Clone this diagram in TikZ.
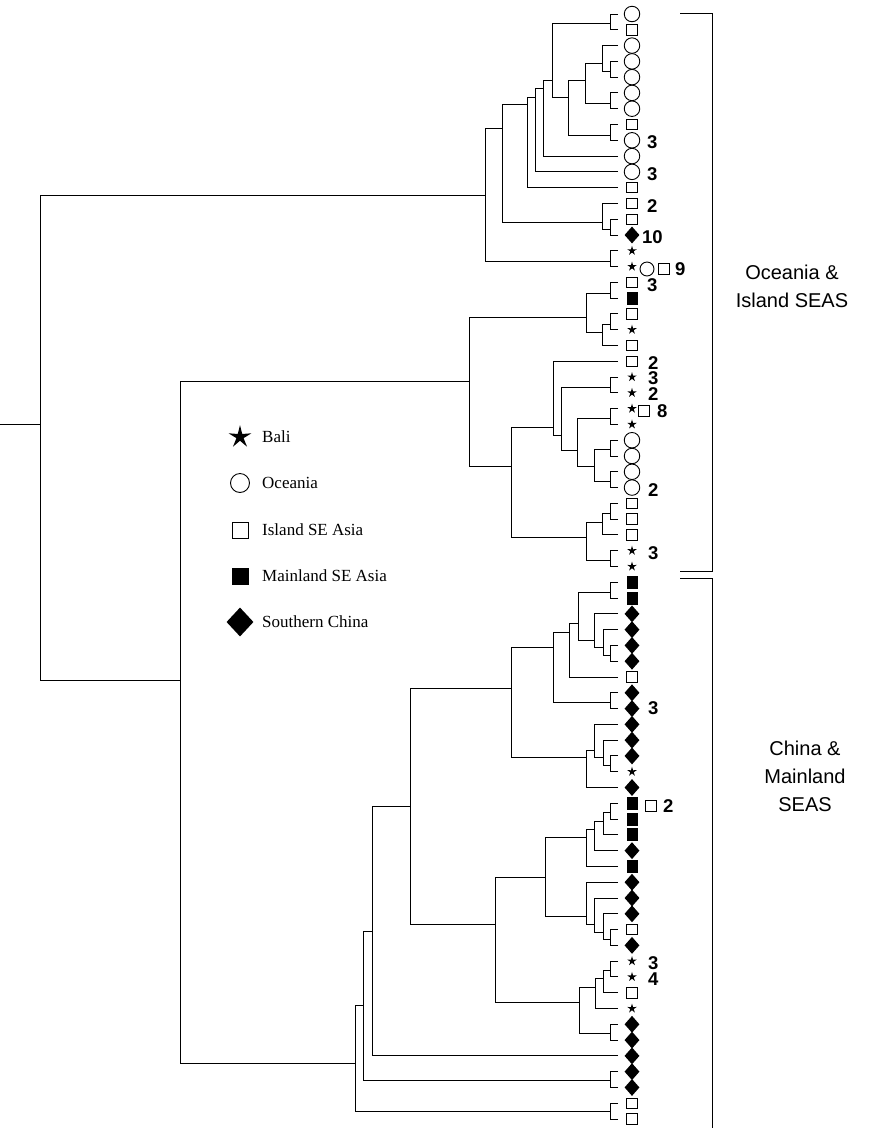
\documentclass[tikz,border=0pt]{standalone}
\usepackage{fontspec}
\setmainfont{Liberation Serif}
\newfontfamily\sansf{Liberation Sans}
\usetikzlibrary{shapes.geometric}
\newcommand{\jn}[5]{\coordinate (#1) at (#2,#3); \draw[tree] (#4) -| (#1); \draw[tree] (#5) -| (#1);}
\begin{document}
\begin{tikzpicture}[x=1pt,y=-1pt,
  tree/.style={line width=0.9pt},
  symc/.style={circle,draw,line width=0.9pt,minimum size=15.5pt,inner sep=0pt},
  syms/.style={rectangle,draw,line width=0.9pt,minimum size=10.5pt,inner sep=0pt},
  symf/.style={rectangle,fill,minimum width=11pt,minimum height=13pt,inner sep=0pt},
  symd/.style={diamond,fill,minimum width=15pt,minimum height=17pt,inner sep=0pt},
  syma/.style={star,star points=5,star point ratio=2.8,fill,minimum size=10pt,inner sep=0pt},
  num/.style={anchor=west,inner sep=0pt,text height=13pt,text depth=0pt,font=\sansf\bfseries\fontsize{18.5}{18.5}\selectfont},
  leg/.style={anchor=west,inner sep=0pt,font=\fontsize{17}{20}\selectfont},
  grp/.style={align=center,inner sep=0pt,font=\sansf\fontsize{20}{28}\selectfont}]
\useasboundingbox (0,0) rectangle (871,1128);
% leaves
\foreach \t [count=\i] in {c,s,c,c,c,c,c,s,c,c,c,s,s,s,d,a,a,s,f,s,a,s,s,a,a,a,a,c,c,c,c,s,s,s,a,a,f,f,d,d,d,d,s,d,d,d,d,d,a,d,f,f,f,d,f,d,d,d,s,d,a,a,s,a,d,d,d,d,d,s,s}{
  \pgfmathsetmacro\yy{14+(\i-1)*15.7857}
  \edef\tmp{\noexpand\coordinate (L\i) at (618,\yy); \noexpand\node[sym\t] (S\i) at (632,\yy) {};}
  \tmp
}
% Oceania cluster
\jn{A1}{610}{23}{L1}{L2}
\jn{A2}{610}{71}{L4}{L5}
\jn{A3}{602}{63}{L3}{A2}
\jn{A4}{610}{103}{L6}{L7}
\jn{A5}{585}{80}{A3}{A4}
\jn{A6}{610}{135}{L8}{L9}
\jn{A7}{568}{97}{A5}{A6}
\jn{A8}{552}{80}{A1}{A7}
\jn{A9}{543}{88}{A8}{L10}
\jn{A10}{535}{97}{A9}{L11}
\jn{A11}{527}{104}{A10}{L12}
\jn{A12}{610}{229}{L14}{L15}
\jn{A13}{602}{222}{L13}{A12}
\jn{A14}{502}{128}{A11}{A13}
\jn{A15}{610}{261}{L16}{L17}
\jn{A16}{485}{195}{A14}{A15}
% Island SEAS cluster
\jn{B1}{610}{293}{L18}{L19}
\jn{B2}{610}{324}{L20}{L21}
\jn{B3}{602}{332}{B2}{L22}
\jn{B4}{586}{317}{B1}{B3}
\jn{B5}{610}{387}{L24}{L25}
\jn{B6}{610}{418}{L26}{L27}
\jn{B7}{610}{449}{L28}{L29}
\jn{B8}{610}{481}{L30}{L31}
\jn{B9}{594}{466}{B7}{B8}
\jn{B10}{577}{450}{B6}{B9}
\jn{B11}{561}{435}{B5}{B10}
\jn{B12}{553}{427}{L23}{B11}
\jn{B13}{610}{513}{L32}{L33}
\jn{B14}{602}{522}{B13}{L34}
\jn{B15}{610}{560}{L35}{L36}
\jn{B16}{586}{537}{B14}{B15}
\jn{B17}{511}{466}{B12}{B16}
\jn{B18}{469}{381}{B4}{B17}
% China cluster
\jn{D1}{610}{592}{L37}{L38}
\jn{D2}{610}{655}{L41}{L42}
\jn{D3}{603}{647}{L40}{D2}
\jn{D4}{594}{640}{L39}{D3}
\jn{D5}{578}{623}{D1}{D4}
\jn{D6}{569}{632}{D5}{L43}
\jn{D7}{610}{702}{L44}{L45}
\jn{D8}{553}{647}{D6}{D7}
\jn{D10}{610}{765}{L48}{L49}
\jn{D11}{603}{757}{L47}{D10}
\jn{D12}{594}{750}{L46}{D11}
\jn{D13}{586}{757}{D12}{L50}
\jn{D9}{511}{688}{D8}{D13}
\jn{G1}{610}{812}{L51}{L52}
\jn{G2}{603}{821}{G1}{L53}
\jn{G3}{594}{829}{G2}{L54}
\jn{G4}{586}{837}{G3}{L55}
\jn{G5}{610}{939}{L59}{L60}
\jn{G6}{603}{932}{L58}{G5}
\jn{G7}{594}{924}{L57}{G6}
\jn{G8}{586}{916}{L56}{G7}
\jn{G9}{545}{877}{G4}{G8}
\jn{E1}{610}{1033}{L65}{L66}
\jn{E2}{610}{970}{L61}{L62}
\jn{E3}{603}{978}{E2}{L63}
\jn{E4}{595}{987}{E3}{L64}
\jn{E5}{579}{1002}{E4}{E1}
\jn{H}{495}{924}{G9}{E5}
\jn{J}{610}{1080}{L68}{L69}
\jn{K}{610}{1111}{L70}{L71}
\jn{I1}{410}{806}{D9}{H}
\jn{I2}{372}{931}{I1}{L67}
\jn{I3}{363}{1005}{I2}{J}
\jn{I4}{355}{1063}{I3}{K}
% root
\jn{R}{180}{680}{B18}{I4}
\jn{RT}{40}{424}{A16}{R}
\coordinate (R0) at (0,424);
\draw[tree] (R0) -- (RT);
% count labels
\node[num] (n9) at (647,142) {3};
\node[num] (n11) at (647,174) {3};
\node[num] (n13) at (647,206) {2};
\node[num] (n15) at (642,237) {10};
\node[symc,minimum size=14pt] (c17) at (647,269) {};
\node[syms] (s17) at (664,269) {};
\node[num] (n17) at (675,269) {9};
\node[num] (n18) at (647,285) {3};
\node[num] (n23) at (648,363) {2};
\node[num] (n24) at (648,378) {3};
\node[num] (n25) at (648,394) {2};
\node[syms] (s26) at (644,411) {};
\node[num] (n26) at (657,411) {8};
\node[num] (n31) at (648,490) {2};
\node[num] (n35) at (648,553) {3};
\node[num] (n45) at (648,708) {3};
\node[syms] (s51) at (651,806) {};
\node[num] (n51) at (663,806) {2};
\node[num] (n61) at (648,963) {3};
\node[num] (n62) at (648,979) {4};
% legend
\node[syma,minimum size=24pt,star point ratio=3.2] (kA) at (240,437) {};
\node[leg] (tA) at (262,437) {Bali};
\node[symc,minimum size=19pt] (kC) at (240,483) {};
\node[leg] (tC) at (262,483) {Oceania};
\node[syms,minimum size=16pt] (kS) at (240,530) {};
\node[leg] (tS) at (262,530) {Island SE Asia};
\node[symf,minimum size=17pt] (kF) at (240,576) {};
\node[leg] (tF) at (262,576) {Mainland SE Asia};
\node[symd,minimum width=27pt,minimum height=29pt] (kD) at (240,622) {};
\node[leg] (tD) at (262,622) {Southern China};
% group brackets
\coordinate (b1) at (680,13); \coordinate (b2) at (712,13);
\coordinate (b3) at (712,571); \coordinate (b4) at (680,571);
\draw[tree] (b1) -- (b2) -- (b3) -- (b4);
\coordinate (b5) at (680,578); \coordinate (b6) at (712,578);
\coordinate (b7) at (712,1128);
\draw[tree] (b5) -- (b6) -- (b7);
\node[grp] (g1) at (792,286) {Oceania \&\\Island SEAS};
\node[grp] (g2) at (805,776) {China \&\\Mainland\\SEAS};
\end{tikzpicture}
\end{document}
